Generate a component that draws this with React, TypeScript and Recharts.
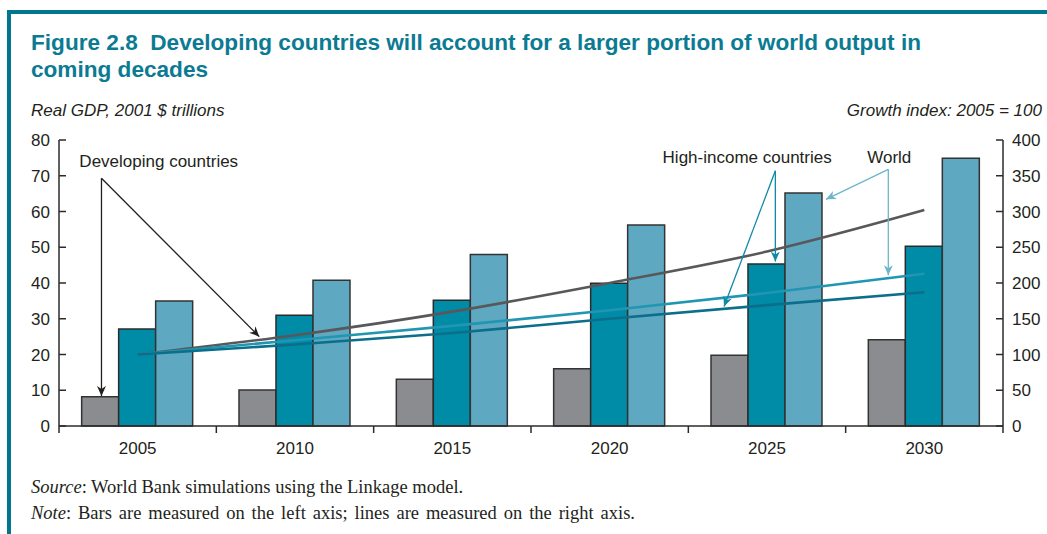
import React from 'react';
import { ComposedChart, Bar, Line, XAxis, YAxis, ReferenceLine, ReferenceDot } from 'recharts';

// values
const years = ['2005', '2010', '2015', '2020', '2025', '2030'];
const developingGdp = [8.2, 10.1, 13.1, 16.0, 19.8, 24.1];
const highIncomeGdp = [27.1, 31.0, 35.2, 39.9, 45.3, 50.3];
const worldGdp = [35.0, 40.8, 48.0, 56.2, 65.2, 74.9];
const developingIndex = [100, 127, 160, 200, 244, 302];
const highIncomeIndex = [100, 114, 130, 150, 169, 187];
const worldIndex = [100, 120, 140, 162, 186, 213];
const leftTicks = [0, 10, 20, 30, 40, 50, 60, 70, 80];
const rightTicks = [0, 50, 100, 150, 200, 250, 300, 350, 400];

const data = years.map((year, i) => ({
    year,
    slot: i + 0.5, // centre of the year's band on the hidden 0-6 axis
    devGdp: developingGdp[i],
    highGdp: highIncomeGdp[i],
    worldGdp: worldGdp[i],
    devIdx: developingIndex[i],
    highIdx: highIncomeIndex[i],
    worldIdx: worldIndex[i],
}));

// annotations, in units of a hidden 0-6 x axis (one unit per year band) and the left axis
const labels = [
    { text: 'Developing countries', x: 0.634, y: 72.4 },
    { text: 'High-income countries', x: 4.374, y: 73.6 },
    { text: 'World', x: 5.277, y: 73.6 },
];
const arrows = [
    { x1: 0.27, y1: 69.3, x2: 0.27, y2: 8.4, kind: 'dev' },
    { x1: 0.27, y1: 69.3, x2: 1.273, y2: 25.0, kind: 'dev' },
    { x1: 4.553, y1: 71.4, x2: 4.553, y2: 46.0, kind: 'high' },
    { x1: 4.553, y1: 71.4, x2: 4.227, y2: 33.4, kind: 'high' },
    { x1: 5.271, y1: 71.8, x2: 4.875, y2: 63.4, kind: 'world' },
    { x1: 5.271, y1: 71.8, x2: 5.271, y2: 42.2, kind: 'world' },
];

const W = 1047;
const H = 534;
const LEFT_W = 59;
const RIGHT_W = 44;
const HALF_BAND = (W - LEFT_W - RIGHT_W) / years.length / 2;
const INK = '#231f20';
const AXIS = '#2b2b2b';
const arrowColor: Record<string, string> = { dev: '#231f20', high: '#1089a5', world: '#6cb5ca' };

const sans = '"Liberation Sans", Arial, Helvetica, sans-serif';
const serif = '"Liberation Serif", "Times New Roman", serif';

function YearTick(props: any) {
    const { x, y, payload, index } = props;
    return (
        <g>
            <line x1={x - HALF_BAND} x2={x - HALF_BAND} y1={y} y2={y + 7} stroke={AXIS} strokeWidth={1.5} />
            {index === years.length - 1 && (
                <line x1={x + HALF_BAND} x2={x + HALF_BAND} y1={y} y2={y + 7} stroke={AXIS} strokeWidth={1.5} />
            )}
            <text x={x} y={y + 28} textAnchor="middle" fontSize={17} fill={INK}>
                {payload.value}
            </text>
        </g>
    );
}

function arrowShape(kind: string) {
    return (p: any) => (
        <line
            x1={p.x1}
            y1={p.y1}
            x2={p.x2}
            y2={p.y2}
            stroke={arrowColor[kind]}
            strokeWidth={1.3}
            markerEnd={`url(#arrow-${kind})`}
        />
    );
}

function labelShape(text: string) {
    return (p: any) => (
        <text x={p.cx} y={p.cy} textAnchor="middle" fontSize={17} fill={INK}>
            {text}
        </text>
    );
}

export default function App() {
    return (
        <div style={{ position: 'absolute', left: 0, top: 0, width: W, height: H, background: '#fff', overflow: 'hidden' }}>
            <div
                style={{
                    position: 'absolute',
                    left: 7,
                    top: 10,
                    width: W - 7,
                    height: H - 10,
                    borderTop: '4px solid #00778f',
                    borderLeft: '4px solid #00778f',
                    boxSizing: 'border-box',
                }}
            />
            <ComposedChart
                width={W}
                height={H}
                data={data}
                margin={{ top: 140, right: 0, bottom: 78, left: 0 }}
                barCategoryGap="14.4%"
                barGap={0}
                style={{ fontFamily: sans, position: 'absolute', left: 0, top: 0 }}
            >
                <defs>
                    {Object.keys(arrowColor).map((k) => (
                        <marker
                            key={k}
                            id={`arrow-${k}`}
                            markerUnits="userSpaceOnUse"
                            markerWidth={11}
                            markerHeight={9}
                            refX={10}
                            refY={4.5}
                            orient="auto"
                        >
                            <path d="M0,0 L10,4.5 L0,9 L3,4.5 Z" fill={arrowColor[k]} />
                        </marker>
                    ))}
                </defs>
                <XAxis
                    xAxisId="cat"
                    dataKey="year"
                    tickLine={false}
                    tickSize={0}
                    tickMargin={0}
                    height={30}
                    interval={0}
                    axisLine={{ stroke: AXIS, strokeWidth: 1.5 }}
                    tick={<YearTick />}
                />
                <XAxis xAxisId="n" dataKey="slot" type="number" domain={[0, 6]} allowDataOverflow hide />
                <YAxis
                    yAxisId="left"
                    orientation="left"
                    width={LEFT_W}
                    domain={[0, 80]}
                    ticks={leftTicks}
                    interval={0}
                    tickSize={-7}
                    tickMargin={16}
                    axisLine={{ stroke: AXIS, strokeWidth: 1.5 }}
                    tickLine={{ stroke: AXIS, strokeWidth: 1.5 }}
                    tick={{ fontSize: 17, fill: INK }}
                />
                <YAxis
                    yAxisId="right"
                    orientation="right"
                    width={RIGHT_W}
                    domain={[0, 400]}
                    ticks={rightTicks}
                    interval={0}
                    tickSize={-7}
                    tickMargin={16}
                    axisLine={{ stroke: AXIS, strokeWidth: 1.5 }}
                    tickLine={{ stroke: AXIS, strokeWidth: 1.5 }}
                    tick={{ fontSize: 17, fill: INK }}
                />
                <Bar xAxisId="cat" yAxisId="left" dataKey="devGdp" fill="#8b8c90" stroke="#333" strokeWidth={1.5} isAnimationActive={false} />
                <Bar xAxisId="cat" yAxisId="left" dataKey="highGdp" fill="#008ba7" stroke="#2b2b2b" strokeWidth={1.5} isAnimationActive={false} />
                <Bar xAxisId="cat" yAxisId="left" dataKey="worldGdp" fill="#5ea8c1" stroke="#333" strokeWidth={1.5} isAnimationActive={false} />
                <Line xAxisId="cat" yAxisId="right" type="monotone" dataKey="devIdx" stroke="#58585a" strokeWidth={2.6} dot={false} isAnimationActive={false} />
                <Line xAxisId="cat" yAxisId="right" type="monotone" dataKey="worldIdx" stroke="#2196b3" strokeWidth={2.6} dot={false} isAnimationActive={false} />
                <Line xAxisId="cat" yAxisId="right" type="monotone" dataKey="highIdx" stroke="#0b6e8a" strokeWidth={2.6} dot={false} isAnimationActive={false} />
                {arrows.map((a, i) => (
                    <ReferenceLine
                        key={`a${i}`}
                        xAxisId="n"
                        yAxisId="left"
                        segment={[
                            { x: a.x1, y: a.y1 },
                            { x: a.x2, y: a.y2 },
                        ]}
                        ifOverflow="visible"
                        shape={arrowShape(a.kind)}
                    />
                ))}
                {labels.map((l) => (
                    <ReferenceDot
                        key={l.text}
                        xAxisId="n"
                        yAxisId="left"
                        x={l.x}
                        y={l.y}
                        r={0}
                        ifOverflow="visible"
                        shape={labelShape(l.text)}
                    />
                ))}
            </ComposedChart>
            <div
                style={{
                    position: 'absolute',
                    left: 31,
                    top: 28.7,
                    fontFamily: sans,
                    fontWeight: 'bold',
                    fontSize: 22.6,
                    lineHeight: '27px',
                    color: '#0b7a93',
                    whiteSpace: 'pre',
                }}
            >
                {'Figure 2.8  Developing countries will account for a larger portion of world output in\ncoming decades'}
            </div>
            <div
                style={{
                    position: 'absolute',
                    left: 31,
                    top: 101.6,
                    fontFamily: sans,
                    fontStyle: 'italic',
                    fontSize: 17,
                    lineHeight: 1,
                    color: INK,
                    whiteSpace: 'nowrap',
                }}
            >
                Real GDP, 2001 $ trillions
            </div>
            <div
                style={{
                    position: 'absolute',
                    right: 5,
                    top: 101.6,
                    fontFamily: sans,
                    fontStyle: 'italic',
                    fontSize: 17,
                    lineHeight: 1,
                    color: INK,
                    whiteSpace: 'nowrap',
                }}
            >
                Growth index: 2005 = 100
            </div>
            <div
                style={{
                    position: 'absolute',
                    left: 31,
                    top: 473.5,
                    fontFamily: serif,
                    fontSize: 18.5,
                    lineHeight: '26px',
                    color: INK,
                    whiteSpace: 'nowrap',
                }}
            >
                <div>
                    <i>Source</i>: World Bank simulations using the Linkage model.
                </div>
                <div style={{ wordSpacing: 2.3 }}>
                    <i>Note</i>: Bars are measured on the left axis; lines are measured on the right axis.
                </div>
            </div>
        </div>
    );
}
